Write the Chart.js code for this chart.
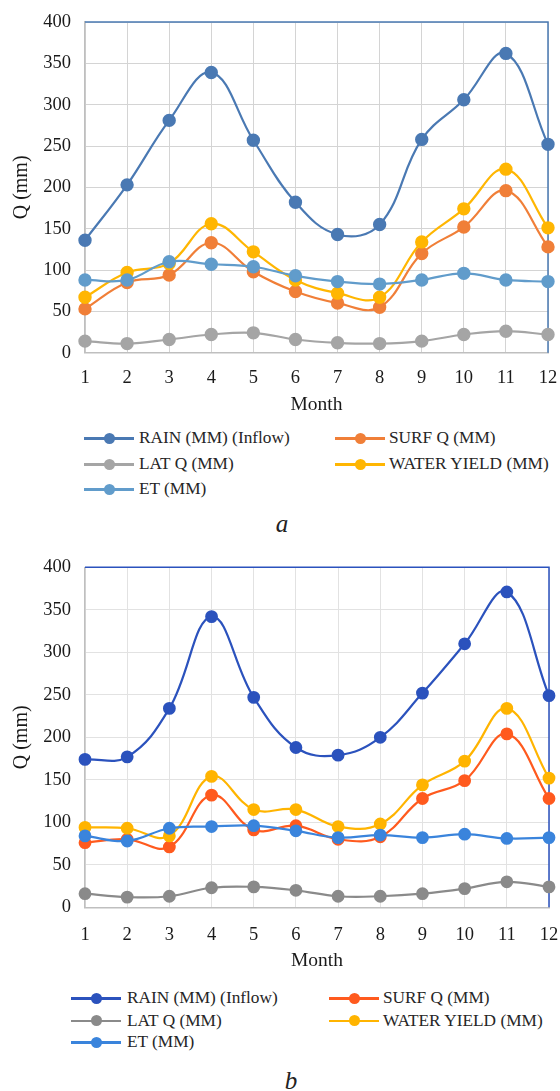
<!DOCTYPE html>
<html>
<head>
<meta charset="utf-8">
<script src="https://cdn.jsdelivr.net/npm/chart.js@4.4.1/dist/chart.umd.min.js"></script>
<style>
  html, body { margin: 0; padding: 0; background: #ffffff; }
  body { width: 560px; height: 1091px; position: relative; overflow: hidden;
         font-family: "Liberation Serif", "Times New Roman", serif; color: #222; }
  canvas { position: absolute; left: 0; }
  .lg { position: absolute; height: 20px; font-size: 17.3px; line-height: 20px; white-space: nowrap; color: #262626; }
  .lg .ln { position: absolute; left: 0; top: 9px; width: 50px; height: 2.5px; }
  .lg .dot { position: absolute; left: 19.5px; top: 4.5px; width: 11px; height: 11px; border-radius: 50%; }
  .lg .tx { position: absolute; top: 0; }
  .cap { position: absolute; font-style: italic; font-size: 25px; transform: translate(-50%, -50%); color: #222; }
</style>
</head>
<body>
<canvas id="chartA" width="560" height="420" style="top:0px"></canvas>
<canvas id="chartB" width="560" height="430" style="top:545px"></canvas>
<div id="legends"></div>
<div class="cap" style="left:282px; top:524px;">a</div>
<div class="cap" style="left:291px; top:1081px;">b</div>
<script>
// ---- data ----
const months = ['1', '2', '3', '4', '5', '6', '7', '8', '9', '10', '11', '12'];
const seriesNames = ['RAIN (MM) (Inflow)', 'SURF Q (MM)', 'LAT Q (MM)', 'WATER YIELD (MM)', 'ET (MM)'];
const yTicks = [0, 50, 100, 150, 200, 250, 300, 350, 400];

// panel a
const rainA  = [136, 203, 281, 339, 257, 182, 143, 155, 258, 306, 362, 252];
const surfA  = [53, 85, 94, 133, 98, 74, 60, 55, 120, 152, 196, 128];
const latA   = [14, 11, 16, 22, 24, 16, 12, 11, 14, 22, 26, 22];
const yieldA = [67, 97, 108, 156, 122, 88, 72, 67, 134, 174, 222, 151];
const etA    = [88, 88, 110, 107, 104, 93, 86, 83, 88, 96, 88, 86];

// panel b
const rainB  = [174, 177, 234, 342, 247, 188, 179, 200, 252, 310, 371, 249];
const surfB  = [76, 80, 71, 132, 91, 96, 80, 83, 128, 149, 204, 128];
const latB   = [16, 12, 13, 23, 24, 20, 13, 13, 16, 22, 30, 24];
const yieldB = [94, 93, 84, 154, 115, 115, 95, 98, 144, 172, 234, 152];
const etB    = [84, 78, 93, 95, 96, 90, 82, 85, 82, 86, 81, 82];

// ---- styles ----
const colorsA = ['#4A79B3', '#F07F38', '#A5A5A5', '#FFB602', '#619CCB'];
const colorsB = ['#2B52BD', '#FF5A1E', '#8A8A8A', '#FFB400', '#3A84DC'];
const FONT = '"Liberation Serif", "Times New Roman", serif';

const frameBorder = {
  id: 'frameBorder',
  beforeDatasetsDraw(chart, args, opts) {
    const a = chart.chartArea, c = chart.ctx;
    c.save();
    c.strokeStyle = opts.color;
    c.lineWidth = 1.5;
    c.beginPath();
    c.moveTo(a.left, a.top);
    c.lineTo(a.right, a.top);
    c.lineTo(a.right, a.bottom);
    c.stroke();
    c.restore();
  }
};

function makeChart(id, seriesList, colors, L) {
  const datasets = seriesList.map((d, i) => ({
    label: seriesNames[i],
    data: d,
    borderColor: colors[i],
    backgroundColor: colors[i],
    pointBackgroundColor: colors[i],
    pointBorderColor: colors[i],
    borderWidth: 2.2,
    pointRadius: L.pr,
    pointHoverRadius: L.pr,
    tension: 0.4,
    clip: false
  }));
  datasets.forEach((d, i) => d.order = seriesList.length - i);
  const chart = new Chart(document.getElementById(id), {
    type: 'line',
    data: { labels: months, datasets },
    options: {
      responsive: false,
      animation: false,
      layout: { padding: { top: L.top, right: 560 - L.right, left: 0, bottom: 0 } },
      plugins: { legend: { display: false }, tooltip: { enabled: false }, frameBorder: { color: L.frame } },
      scales: {
        x: {
          type: 'category',
          offset: false,
          grid: { color: L.grid, lineWidth: 1, drawTicks: false },
          border: { color: L.axis, width: 1.5 },
          ticks: { color: '#1a1a1a', font: { family: FONT, size: 18.5 }, padding: L.xpad, maxRotation: 0, autoSkip: false },
          title: { display: true, text: 'Month', color: '#1a1a1a', font: { family: FONT, size: 19.5 }, padding: { top: 0, bottom: L.tpad } },
          afterFit: s => { s.height = L.xh; s.paddingLeft = 0; s.paddingRight = 0; }
        },
        y: {
          min: 0, max: 400,
          afterBuildTicks: s => { s.ticks = yTicks.map(v => ({ value: v })); },
          grid: { color: L.grid, lineWidth: 1, drawTicks: false },
          border: { color: L.axis, width: 1.5 },
          ticks: { color: '#1a1a1a', font: { family: FONT, size: 18.5 }, padding: 14 },
          title: { display: true, text: 'Q (mm)', color: '#1a1a1a', font: { family: FONT, size: 20 }, padding: { top: 10, bottom: 0 } },
          afterFit: s => { s.width = L.left; s.paddingTop = 0; s.paddingBottom = 0; }
        }
      }
    },
    plugins: [frameBorder]
  });
  // self-correct the plot-area edges to the target frame
  for (let k = 0; k < 3; k++) {
    const a = chart.chartArea, p = chart.options.layout.padding;
    p.right += a.right - L.right;
    p.top += L.top - a.top;
    chart.update('none');
  }
  return chart;
}

makeChart('chartA', [rainA, surfA, latA, yieldA, etA], colorsA,
  { left: 85, top: 22, right: 548, xh: 67.3, xpad: 14.5, tpad: 3.8, grid: '#D4D4D4', axis: '#BFBFBF', frame: '#4A79B3', pr: 5.6 });
makeChart('chartB', [rainB, surfB, latB, yieldB, etB], colorsB,
  { left: 85, top: 22.3, right: 549, xh: 67.7, xpad: 16.5, tpad: 2, grid: '#E2E2E2', axis: '#BFBFBF', frame: '#2B52BD', pr: 5.3 });

// ---- HTML legends (two columns, Excel style) ----
function addLegend(colors, cols, rows) {
  const host = document.getElementById('legends');
  const order = [[0, 0, 0], [1, 1, 0], [2, 0, 1], [3, 1, 1], [4, 0, 2]];
  order.forEach(([si, col, row]) => {
    const el = document.createElement('div');
    el.className = 'lg';
    el.style.left = cols[col].line + 'px';
    el.style.top = (rows[row] - 10) + 'px';
    el.innerHTML = '<div class="ln" style="background:' + colors[si] + '"></div>' +
      '<div class="dot" style="background:' + colors[si] + '"></div>' +
      '<div class="tx" style="left:' + (cols[col].text - cols[col].line) + 'px">' + seriesNames[si] + '</div>';
    host.appendChild(el);
  });
}
addLegend(colorsA, [{ line: 84, text: 139 }, { line: 335, text: 389 }], [438, 464, 489]);
addLegend(colorsB, [{ line: 71, text: 127 }, { line: 329, text: 383 }], [998, 1020.5, 1042]);
</script>
</body>
</html>
